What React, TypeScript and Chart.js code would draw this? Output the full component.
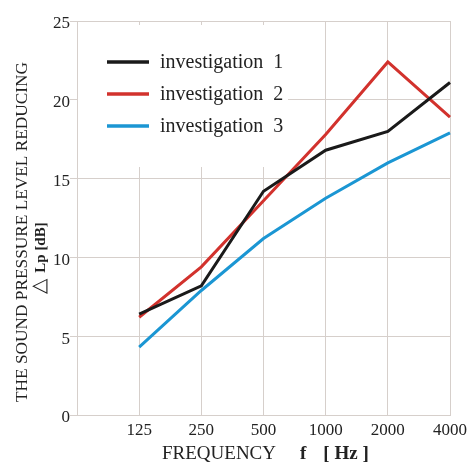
import React, { useEffect, useRef } from 'react';
import { Chart, registerables } from 'chart.js';

Chart.register(...registerables);

const categories = ['', '125', '250', '500', '1000', '2000', '4000'];
const investigation1 = [null, 6.4, 8.2, 14.2, 16.8, 18.0, 21.1];
const investigation2 = [null, 6.2, 9.4, 13.6, 17.8, 22.4, 18.9];
const investigation3 = [null, 4.3, 7.9, 11.2, 13.75, 16.0, 17.9];
const seriesLabels = ['investigation  1', 'investigation  2', 'investigation  3'];
const seriesColors = ['#1a1a1a', '#d2322d', '#1b96d3'];
const yTitle = 'THE SOUND PRESSURE LEVEL REDUCING';
const yTitle2 = ['\u25B3', 'Lp [dB]'];
const xTitle = ['FREQUENCY', 'f', '[ Hz ]'];

const SERIF = '"Liberation Serif", "Times New Roman", serif';
const GRID = '#d6cfcb';
const TEXT = '#222222';

const decorPlugin = {
  id: 'decor',
  beforeDatasetsDraw(chart: any) {
    const { ctx, chartArea } = chart;
    ctx.save();
    ctx.fillStyle = '#ffffff';
    ctx.fillRect(chartArea.left + 1, chartArea.top + 4, 210, 142);
    ctx.restore();
  },
  afterDatasetsDraw(chart: any) {
    const { ctx } = chart;
    ctx.save();
    // legend
    chart.data.datasets.forEach((ds: any, i: number) => {
      const y = 62 + 32 * i;
      ctx.strokeStyle = ds.borderColor;
      ctx.lineWidth = 3.5;
      ctx.beginPath();
      ctx.moveTo(107, y);
      ctx.lineTo(149, y);
      ctx.stroke();
      ctx.fillStyle = TEXT;
      ctx.font = `20px ${SERIF}`;
      ctx.textBaseline = 'middle';
      ctx.textAlign = 'left';
      ctx.fillText(ds.label, 160, y + 1);
    });

    // y title line 1
    ctx.save();
    ctx.translate(22, 232);
    ctx.rotate(-Math.PI / 2);
    ctx.font = `17.3px ${SERIF}`;
    ctx.fillStyle = TEXT;
    ctx.textAlign = 'center';
    ctx.textBaseline = 'middle';
    ctx.fillText(yTitle, 0, 0);
    ctx.restore();

    // y title line 2
    ctx.save();
    ctx.translate(40, 258);
    ctx.rotate(-Math.PI / 2);
    ctx.fillStyle = TEXT;
    ctx.textBaseline = 'middle';
    ctx.textAlign = 'left';
    const f1 = `20px ${SERIF}`;
    const f2 = `bold 15px ${SERIF}`;
    ctx.font = f1;
    const w1 = ctx.measureText(yTitle2[0]).width;
    ctx.font = f2;
    const w2 = ctx.measureText(yTitle2[1]).width;
    const gap = 6;
    let x = -(w1 + gap + w2) / 2;
    ctx.font = f1;
    ctx.fillText(yTitle2[0], x, 0);
    x += w1 + gap;
    ctx.font = f2;
    ctx.fillText(yTitle2[1], x, 1);
    ctx.restore();

    // x title
    ctx.fillStyle = TEXT;
    ctx.textBaseline = 'alphabetic';
    ctx.textAlign = 'left';
    let xx = 162;
    const by = 459;
    ctx.font = `19px ${SERIF}`;
    ctx.fillText(xTitle[0], xx, by);
    xx += ctx.measureText(xTitle[0]).width + 24;
    ctx.font = `bold 19px ${SERIF}`;
    ctx.fillText(xTitle[1], xx, by);
    xx += ctx.measureText(xTitle[1]).width + 17;
    ctx.fillText(xTitle[2], xx, by);
    ctx.restore();
  },
};

export default function App() {
  const ref = useRef<HTMLCanvasElement>(null);
  useEffect(() => {
    if (!ref.current) return;
    const series = [investigation1, investigation2, investigation3];
    const chart = new Chart(ref.current, {
      type: 'line',
      data: {
        labels: categories,
        datasets: series.map((d, i) => ({
          label: seriesLabels[i],
          data: d,
          borderColor: seriesColors[i],
          backgroundColor: seriesColors[i],
          borderWidth: 3,
          pointRadius: 0,
          tension: 0,
          fill: false,
        })),
      },
      options: {
        responsive: false,
        animation: false,
        devicePixelRatio: 1,
        layout: { padding: { top: 21, right: 25, left: 0, bottom: 0 } },
        plugins: {
          legend: { display: false },
          tooltip: { enabled: false },
          title: { display: false },
        },
        scales: {
          x: {
            type: 'category',
            offset: false,
            grid: { color: GRID, lineWidth: 1, drawTicks: false },
            border: { color: GRID },
            ticks: {
              font: { family: SERIF, size: 17 },
              color: TEXT,
              padding: 5,
              maxRotation: 0,
              autoSkip: false,
            },
            afterFit: (s: any) => {
              s.height = 48;
            },
          },
          y: {
            min: 0,
            max: 25,
            grid: { color: GRID, lineWidth: 1, tickLength: 7 },
            border: { color: GRID },
            ticks: {
              stepSize: 5,
              font: { family: SERIF, size: 17 },
              color: TEXT,
              padding: 0,
              labelOffset: 3,
            },
            afterFit: (s: any) => {
              s.width = 77;
            },
          },
        },
      },
      plugins: [decorPlugin],
    });
    return () => chart.destroy();
  }, []);
  return (
    <div style={{ position: 'absolute', left: 0, top: 0, width: 475, height: 463, background: '#fff' }}>
      <canvas ref={ref} width={475} height={463} />
    </div>
  );
}
